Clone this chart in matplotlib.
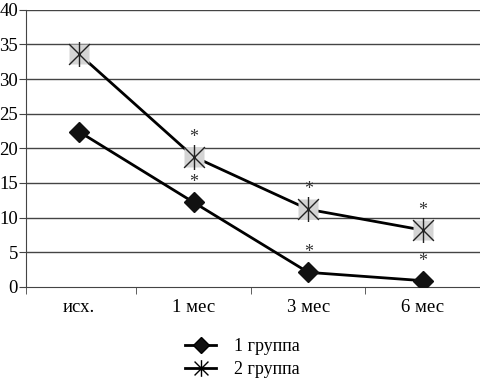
import matplotlib
matplotlib.use("Agg")
import matplotlib.pyplot as plt
from matplotlib.path import Path
from matplotlib.lines import Line2D

categories = ["исх.", "1 мес", "3 мес", "6 мес"]
group1 = [22.4, 12.2, 2.1, 0.9]
group2 = [33.6, 18.8, 11.2, 8.2]
labels = ["1 группа", "2 группа"]
sig1 = [False, True, True, True]
sig2 = [False, True, True, True]

plt.rcParams['font.family'] = ['Liberation Serif', 'DejaVu Serif']

star = Path([(-1, -1), (1, 1), (-1, 1), (1, -1), (0, -1.2), (0, 1.2)],
            [Path.MOVETO, Path.LINETO, Path.MOVETO, Path.LINETO, Path.MOVETO, Path.LINETO])

fig = plt.figure(figsize=(4.81, 3.78), dpi=100)
ax = fig.add_axes([0.055, 0.241, 0.943, 0.733])
x = list(range(len(categories)))

for yv in range(5, 45, 5):
    ax.axhline(yv, color='#444444', lw=1.0, zorder=1)

ax.plot(x, group1, color='black', lw=2, marker='D', markersize=10,
        markerfacecolor='#111111', markeredgecolor='#111111', zorder=3)
ax.plot(x, group2, color='black', lw=2, zorder=2)
ax.plot(x, group2, ls='none', marker='s', markersize=15, markerfacecolor='#d4d4d4',
        markeredgecolor='none', zorder=3)
ax.plot(x, group2, ls='none', marker=star, markersize=18, markeredgecolor='#222222',
        markeredgewidth=1.0, zorder=4)

for xi, v, s in zip(x, group1, sig1):
    if s:
        ax.annotate('*', (xi, v), xytext=(0, 8), textcoords='offset points',
                    ha='center', va='bottom', fontsize=13, color='#333333')
for xi, v, s in zip(x, group2, sig2):
    if s:
        ax.annotate('*', (xi, v), xytext=(0, 8), textcoords='offset points',
                    ha='center', va='bottom', fontsize=13, color='#333333')

ax.set_xlim(-0.46, 3.5)
ax.set_ylim(0, 40)
ax.set_yticks(range(0, 45, 5))
ax.set_xticks(x)
ax.set_xticklabels(categories, fontsize=13.5)
ax.set_xticks([-0.46, 0.5, 1.5, 2.5, 3.5], minor=True)
ax.tick_params(axis='x', which='major', length=0, pad=9)
ax.tick_params(axis='x', which='minor', length=5, direction='out', color='#444444')
ax.tick_params(axis='y', length=5, direction='out', labelsize=13.5, pad=1, color='#444444')
for sp in ['top', 'right']:
    ax.spines[sp].set_visible(False)
ax.spines['left'].set_color('#444444')
ax.spines['bottom'].set_color('#444444')

h1 = Line2D([], [], color='black', lw=2, marker='D', markersize=8, markerfacecolor='#111111')
h2 = Line2D([], [], color='black', lw=2, marker=star, markersize=12, markeredgewidth=1.0)
fig.legend([h1, h2], labels, loc='upper left', bbox_to_anchor=(0.37, 0.125),
           frameon=False, fontsize=13, handlelength=1.7, handletextpad=1.0,
           labelspacing=0.35, borderaxespad=0)

fig.savefig('out.png', dpi=100)
